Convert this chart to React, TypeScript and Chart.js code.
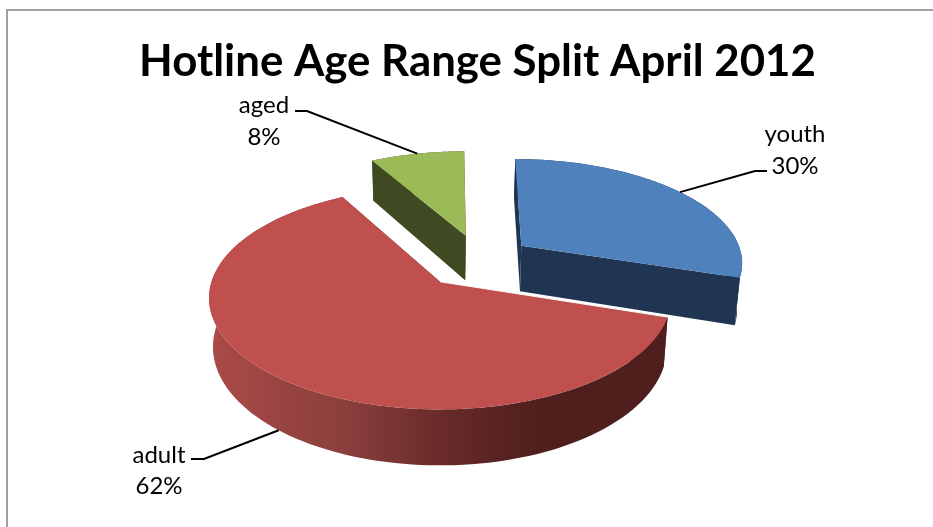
import React, { useEffect, useRef } from "react";
import { Chart, registerables } from "chart.js";

Chart.register(...registerables);

const categories = ["youth", "adult", "aged"];
const percentages = [30, 62, 8];
const topColors = ["#4f81bd", "#c0504d", "#9bbb59"];
const wallColors = ["#1f3552", "#4f1f1e", "#3f4a23"];
const chartTitle = "Hotline Age Range Split April 2012";

// Slice explosion in units of the pie's radius (right, towards the viewer).
const explodeX = [0.368, 0, 0.117];
const explodeY = [-0.347, 0, -0.45];
const farShear = [3.7, 0, 1.5];
const paintOrder = [2, 0, 1];

const FONT = "Lato, 'Noto Sans', sans-serif";
const PERSPECTIVE = 0.146;
const TILT = 0.477;
const DEPTH = 47.8;
const BASE_SHRINK = 0.983;
const SHIFT_X = -37.5;

// Text centres and the elbow of each leader line.
const labelX = [795, 159, 264];
const labelY1 = [134, 455, 105];
const labelY2 = [166, 486, 137];
const elbowX = [755, 204, 307];
const elbowY = [171, 459, 111];
const stubX = [767, 191, 295];

type Pt = { x: number; y: number };

function project(arc: any, i: number, un: number, vn: number, base: boolean): Pt {
  const cx = arc.x + SHIFT_X;
  const w = 1 - PERSPECTIVE * vn;
  const dx = (arc.outerRadius * un) / w;
  const dy = (arc.outerRadius * TILT * vn) / w;
  return {
    x: cx + dx * (base ? BASE_SHRINK : 1) - farShear[i] * vn,
    y: arc.y + dy + (base ? DEPTH / w : 0),
  };
}

function rimPoints(arc: any, i: number, base: boolean): Pt[] {
  const pts: Pt[] = [];
  const n = 120;
  for (let k = 0; k <= n; k++) {
    const a = arc.startAngle + ((arc.endAngle - arc.startAngle) * k) / n;
    pts.push(project(arc, i, explodeX[i] + Math.cos(a), explodeY[i] + Math.sin(a), base));
  }
  return pts;
}

function fillPoly(ctx: CanvasRenderingContext2D, pts: Pt[], fill: any) {
  ctx.beginPath();
  pts.forEach((p, k) => (k ? ctx.lineTo(p.x, p.y) : ctx.moveTo(p.x, p.y)));
  ctx.closePath();
  ctx.fillStyle = fill;
  ctx.fill();
}

const framePlugin = {
  id: "frame",
  beforeDraw(chart: any) {
    const { ctx, width, height } = chart;
    ctx.save();
    ctx.strokeStyle = "#a0a0a0";
    ctx.lineWidth = 2;
    ctx.beginPath();
    ctx.moveTo(7, height);
    ctx.lineTo(7, 10);
    ctx.lineTo(width, 10);
    ctx.stroke();
    ctx.restore();
  },
};

const pie3dPlugin = {
  id: "pie3d",
  beforeDatasetsDraw(chart: any) {
    const { ctx } = chart;
    const arcs = chart.getDatasetMeta(0).data;
    ctx.save();
    for (const i of paintOrder) {
      const arc = arcs[i];
      const top = rimPoints(arc, i, false);
      const bottom = rimPoints(arc, i, true);
      const apexTop = project(arc, i, explodeX[i], explodeY[i], false);
      const apexBottom = project(arc, i, explodeX[i], explodeY[i], true);
      const last = top.length - 1;

      let wall: any = wallColors[i];
      if (i === 1) {
        const minX = Math.min(...bottom.map((p) => p.x));
        const maxX = Math.max(...bottom.map((p) => p.x));
        const g = ctx.createLinearGradient(minX, 0, maxX, 0);
        g.addColorStop(0, "#a94a47");
        g.addColorStop(0.3, "#893f3c");
        g.addColorStop(0.5, "#6a2b2a");
        g.addColorStop(0.72, wallColors[1]);
        g.addColorStop(1, wallColors[1]);
        wall = g;
      }
      fillPoly(ctx, [apexTop, top[0], bottom[0], apexBottom], wallColors[i]);
      fillPoly(ctx, [apexTop, top[last], bottom[last], apexBottom], wallColors[i]);
      fillPoly(ctx, [...top, ...bottom.slice().reverse()], wall);
      fillPoly(ctx, [apexTop, ...top], arc.options.backgroundColor);

      if (i === 1) {
        ctx.strokeStyle = "#ffffff";
        ctx.lineWidth = 1;
        ctx.beginPath();
        ctx.moveTo(apexTop.x, apexTop.y);
        ctx.lineTo(top[0].x, top[0].y);
        ctx.stroke();
      }
    }
    ctx.restore();
    return false;
  },
  afterDraw(chart: any) {
    const { ctx } = chart;
    const arcs = chart.getDatasetMeta(0).data;
    ctx.save();
    arcs.forEach((arc: any, i: number) => {
      const mid = (arc.startAngle + arc.endAngle) / 2;
      const sin = Math.sin(mid);
      const end = project(arc, i, explodeX[i] + Math.cos(mid), explodeY[i] + sin, sin > 0);
      ctx.strokeStyle = "#000000";
      ctx.lineWidth = 2;
      ctx.beginPath();
      ctx.moveTo(stubX[i], elbowY[i]);
      ctx.lineTo(elbowX[i], elbowY[i]);
      ctx.lineTo(end.x, end.y);
      ctx.stroke();

      ctx.fillStyle = "#000000";
      ctx.font = `24px ${FONT}`;
      ctx.textAlign = "center";
      ctx.textBaseline = "middle";
      ctx.fillText(categories[i], labelX[i], labelY1[i]);
      ctx.fillText(`${percentages[i]}%`, labelX[i], labelY2[i]);
    });
    ctx.restore();
  },
};

export default function App() {
  const ref = useRef<HTMLCanvasElement | null>(null);
  useEffect(() => {
    if (!ref.current) return;
    const chart = new Chart(ref.current, {
      type: "pie",
      data: {
        labels: categories,
        datasets: [{ data: percentages, backgroundColor: topColors, borderWidth: 0 }],
      },
      options: {
        responsive: false,
        animation: false,
        radius: 228.5,
        layout: { padding: { left: 22, right: 0, top: 0, bottom: 54 } },
        plugins: {
          legend: { display: false },
          tooltip: { enabled: false },
          title: {
            display: true,
            text: chartTitle,
            color: "#000000",
            font: { family: FONT, size: 43.8, weight: "bold", lineHeight: 1.2 },
            padding: { top: 36, bottom: 2 },
          },
        },
      } as any,
      plugins: [framePlugin, pie3dPlugin],
    });
    return () => chart.destroy();
  }, []);
  return (
    <div style={{ position: "fixed", left: 0, top: 0, width: 933, height: 527, background: "#fff" }}>
      <canvas ref={ref} width={933} height={527} style={{ display: "block" }} />
    </div>
  );
}
